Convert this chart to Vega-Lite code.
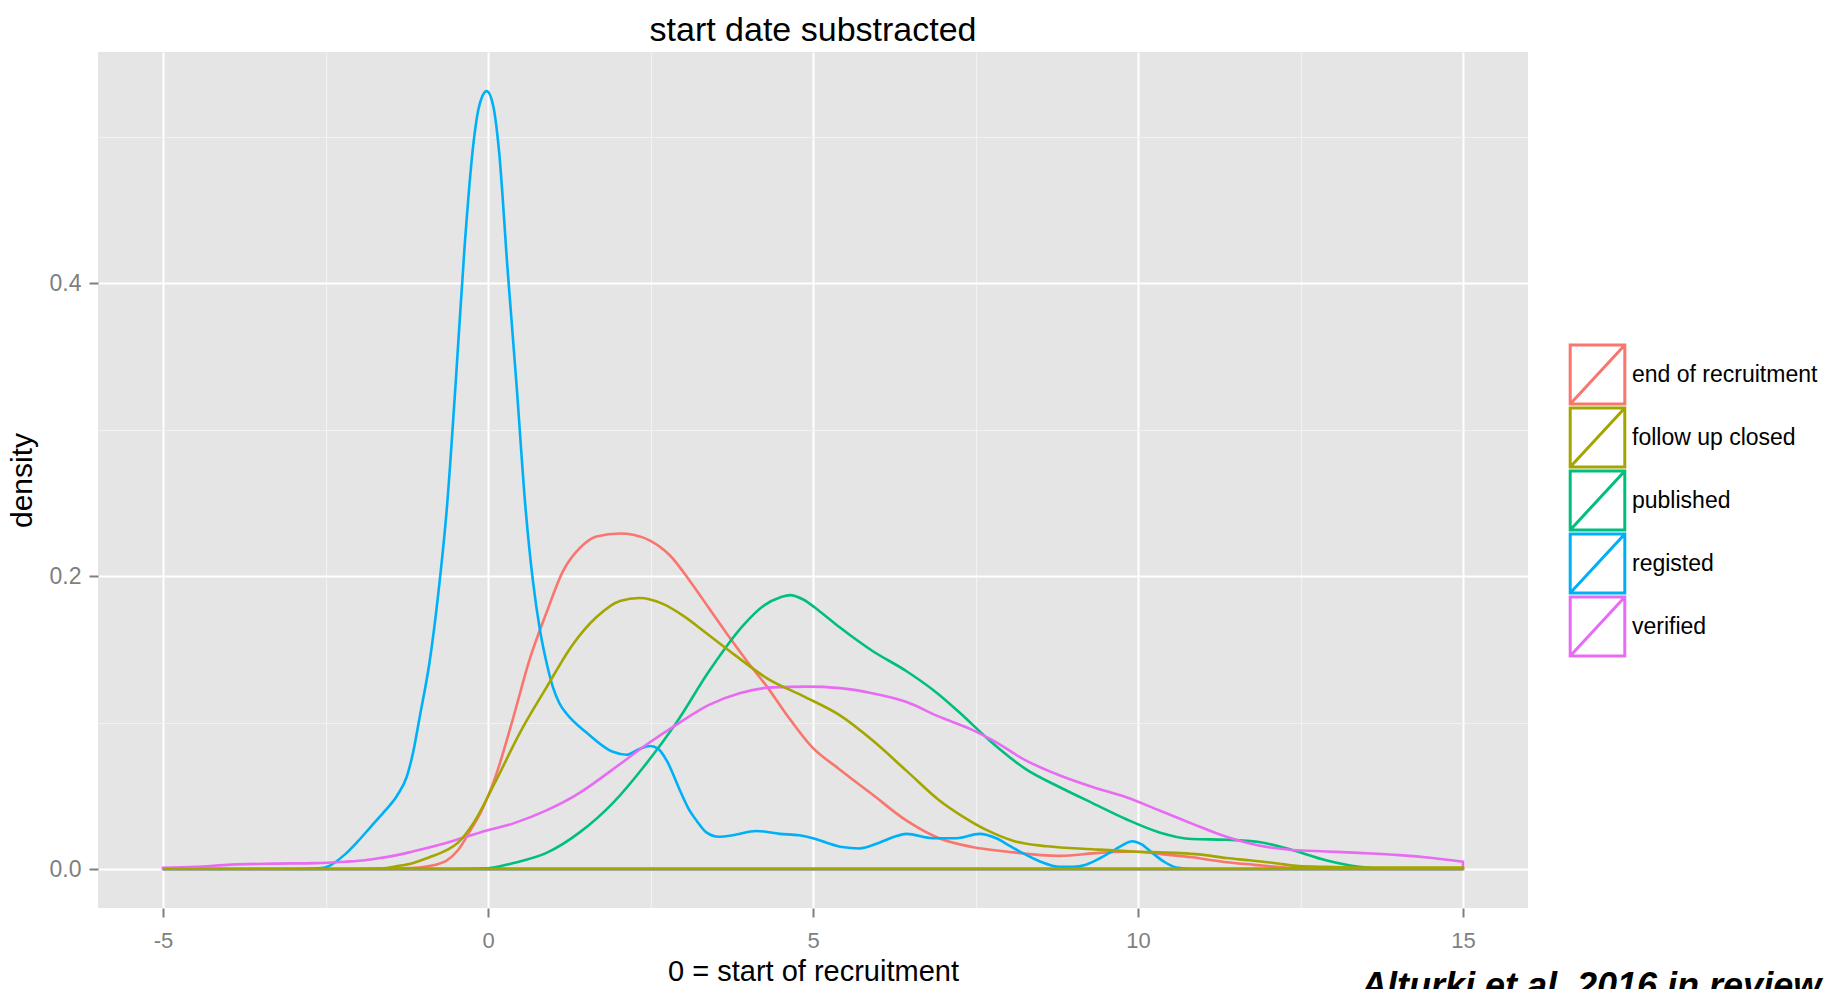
{
  "$schema": "https://vega.github.io/schema/vega-lite/v6.json",
  "autosize": "none",
  "width": 1430,
  "height": 856,
  "padding": {"left": 98, "top": 52, "right": 297, "bottom": 81},
  "background": "white",
  "title": {"text": "start date substracted", "fontSize": 34, "fontWeight": "normal", "color": "black", "anchor": "middle", "offset": 4, "font": "Liberation Sans"},
  "config": {
    "view": {"fill": "#e5e5e5", "stroke": null},
    "font": "Liberation Sans"
  },
  "datasets": {
    "curves": [
      {"event": "end of recruitment", "t": -5, "density": 0},
      {"event": "end of recruitment", "t": -2, "density": 0},
      {"event": "end of recruitment", "t": -1.5, "density": 0.0003},
      {"event": "end of recruitment", "t": -1.13, "density": 0.0008},
      {"event": "end of recruitment", "t": -0.9, "density": 0.002},
      {"event": "end of recruitment", "t": -0.63, "density": 0.006},
      {"event": "end of recruitment", "t": -0.46, "density": 0.013},
      {"event": "end of recruitment", "t": -0.25, "density": 0.028},
      {"event": "end of recruitment", "t": -0.12, "density": 0.038},
      {"event": "end of recruitment", "t": 0.13, "density": 0.065},
      {"event": "end of recruitment", "t": 0.38, "density": 0.102},
      {"event": "end of recruitment", "t": 0.64, "density": 0.143},
      {"event": "end of recruitment", "t": 0.9, "density": 0.175},
      {"event": "end of recruitment", "t": 1.15, "density": 0.203},
      {"event": "end of recruitment", "t": 1.41, "density": 0.219},
      {"event": "end of recruitment", "t": 1.67, "density": 0.227},
      {"event": "end of recruitment", "t": 2.03, "density": 0.229},
      {"event": "end of recruitment", "t": 2.25, "density": 0.228},
      {"event": "end of recruitment", "t": 2.5, "density": 0.224},
      {"event": "end of recruitment", "t": 2.8, "density": 0.214},
      {"event": "end of recruitment", "t": 3.1, "density": 0.197},
      {"event": "end of recruitment", "t": 3.4, "density": 0.178},
      {"event": "end of recruitment", "t": 3.7, "density": 0.159},
      {"event": "end of recruitment", "t": 4.0, "density": 0.141},
      {"event": "end of recruitment", "t": 4.3, "density": 0.124},
      {"event": "end of recruitment", "t": 4.6, "density": 0.105},
      {"event": "end of recruitment", "t": 4.99, "density": 0.083},
      {"event": "end of recruitment", "t": 5.41, "density": 0.068},
      {"event": "end of recruitment", "t": 5.91, "density": 0.051},
      {"event": "end of recruitment", "t": 6.44, "density": 0.033},
      {"event": "end of recruitment", "t": 6.94, "density": 0.021},
      {"event": "end of recruitment", "t": 7.45, "density": 0.015},
      {"event": "end of recruitment", "t": 7.97, "density": 0.012},
      {"event": "end of recruitment", "t": 8.79, "density": 0.009},
      {"event": "end of recruitment", "t": 9.4, "density": 0.011},
      {"event": "end of recruitment", "t": 9.91, "density": 0.012},
      {"event": "end of recruitment", "t": 10.4, "density": 0.01},
      {"event": "end of recruitment", "t": 10.83, "density": 0.008},
      {"event": "end of recruitment", "t": 11.3, "density": 0.005},
      {"event": "end of recruitment", "t": 11.76, "density": 0.003},
      {"event": "end of recruitment", "t": 12.37, "density": 0.0007},
      {"event": "end of recruitment", "t": 13, "density": 0},
      {"event": "end of recruitment", "t": 15, "density": 0},

      {"event": "published", "t": -5, "density": 0},
      {"event": "published", "t": -0.5, "density": 0},
      {"event": "published", "t": 0, "density": 0.0005},
      {"event": "published", "t": 0.38, "density": 0.004},
      {"event": "published", "t": 0.9, "density": 0.011},
      {"event": "published", "t": 1.41, "density": 0.025},
      {"event": "published", "t": 1.92, "density": 0.045},
      {"event": "published", "t": 2.4, "density": 0.07},
      {"event": "published", "t": 2.9, "density": 0.1},
      {"event": "published", "t": 3.4, "density": 0.135},
      {"event": "published", "t": 3.92, "density": 0.166},
      {"event": "published", "t": 4.25, "density": 0.18},
      {"event": "published", "t": 4.5, "density": 0.1855},
      {"event": "published", "t": 4.65, "density": 0.187},
      {"event": "published", "t": 4.85, "density": 0.184},
      {"event": "published", "t": 5.1, "density": 0.176},
      {"event": "published", "t": 5.41, "density": 0.165},
      {"event": "published", "t": 5.91, "density": 0.149},
      {"event": "published", "t": 6.44, "density": 0.135},
      {"event": "published", "t": 6.94, "density": 0.119},
      {"event": "published", "t": 7.25, "density": 0.107},
      {"event": "published", "t": 7.76, "density": 0.086},
      {"event": "published", "t": 8.28, "density": 0.068},
      {"event": "published", "t": 8.79, "density": 0.056},
      {"event": "published", "t": 9.3, "density": 0.045},
      {"event": "published", "t": 9.82, "density": 0.034},
      {"event": "published", "t": 10.33, "density": 0.025},
      {"event": "published", "t": 10.83, "density": 0.0205},
      {"event": "published", "t": 11.36, "density": 0.02},
      {"event": "published", "t": 11.86, "density": 0.0185},
      {"event": "published", "t": 12.37, "density": 0.013},
      {"event": "published", "t": 12.89, "density": 0.006},
      {"event": "published", "t": 13.4, "density": 0.0015},
      {"event": "published", "t": 13.8, "density": 0.0003},
      {"event": "published", "t": 14.5, "density": 0},
      {"event": "published", "t": 15, "density": 0},

      {"event": "registed", "t": -5, "density": 0},
      {"event": "registed", "t": -3, "density": 0},
      {"event": "registed", "t": -2.6, "density": 0.0005},
      {"event": "registed", "t": -2.45, "density": 0.002},
      {"event": "registed", "t": -2.2, "density": 0.01},
      {"event": "registed", "t": -2.0, "density": 0.019},
      {"event": "registed", "t": -1.8, "density": 0.029},
      {"event": "registed", "t": -1.6, "density": 0.039},
      {"event": "registed", "t": -1.4, "density": 0.05},
      {"event": "registed", "t": -1.25, "density": 0.063},
      {"event": "registed", "t": -1.15, "density": 0.08},
      {"event": "registed", "t": -1.05, "density": 0.104},
      {"event": "registed", "t": -0.9, "density": 0.141},
      {"event": "registed", "t": -0.77, "density": 0.186},
      {"event": "registed", "t": -0.63, "density": 0.248},
      {"event": "registed", "t": -0.5, "density": 0.33},
      {"event": "registed", "t": -0.36, "density": 0.425},
      {"event": "registed", "t": -0.23, "density": 0.493},
      {"event": "registed", "t": -0.14, "density": 0.52},
      {"event": "registed", "t": -0.02, "density": 0.531},
      {"event": "registed", "t": 0.08, "density": 0.521},
      {"event": "registed", "t": 0.17, "density": 0.49},
      {"event": "registed", "t": 0.3, "density": 0.41},
      {"event": "registed", "t": 0.44, "density": 0.33},
      {"event": "registed", "t": 0.58, "density": 0.245},
      {"event": "registed", "t": 0.69, "density": 0.197},
      {"event": "registed", "t": 0.8, "density": 0.163},
      {"event": "registed", "t": 0.9, "density": 0.141},
      {"event": "registed", "t": 1.0, "density": 0.124},
      {"event": "registed", "t": 1.1, "density": 0.113},
      {"event": "registed", "t": 1.21, "density": 0.106},
      {"event": "registed", "t": 1.52, "density": 0.093},
      {"event": "registed", "t": 1.92, "density": 0.08},
      {"event": "registed", "t": 2.13, "density": 0.078},
      {"event": "registed", "t": 2.33, "density": 0.082},
      {"event": "registed", "t": 2.5, "density": 0.084},
      {"event": "registed", "t": 2.62, "density": 0.082},
      {"event": "registed", "t": 2.75, "density": 0.074},
      {"event": "registed", "t": 2.95, "density": 0.054},
      {"event": "registed", "t": 3.1, "density": 0.04},
      {"event": "registed", "t": 3.21, "density": 0.033},
      {"event": "registed", "t": 3.36, "density": 0.025},
      {"event": "registed", "t": 3.55, "density": 0.022},
      {"event": "registed", "t": 3.76, "density": 0.023},
      {"event": "registed", "t": 4.13, "density": 0.026},
      {"event": "registed", "t": 4.49, "density": 0.024},
      {"event": "registed", "t": 4.79, "density": 0.023},
      {"event": "registed", "t": 5.0, "density": 0.021},
      {"event": "registed", "t": 5.21, "density": 0.018},
      {"event": "registed", "t": 5.45, "density": 0.015},
      {"event": "registed", "t": 5.71, "density": 0.014},
      {"event": "registed", "t": 6.02, "density": 0.018},
      {"event": "registed", "t": 6.25, "density": 0.022},
      {"event": "registed", "t": 6.44, "density": 0.024},
      {"event": "registed", "t": 6.84, "density": 0.021},
      {"event": "registed", "t": 7.21, "density": 0.021},
      {"event": "registed", "t": 7.56, "density": 0.024},
      {"event": "registed", "t": 7.82, "density": 0.021},
      {"event": "registed", "t": 8.02, "density": 0.016},
      {"event": "registed", "t": 8.22, "density": 0.011},
      {"event": "registed", "t": 8.5, "density": 0.005},
      {"event": "registed", "t": 8.79, "density": 0.0015},
      {"event": "registed", "t": 9.0, "density": 0.0015},
      {"event": "registed", "t": 9.2, "density": 0.003},
      {"event": "registed", "t": 9.4, "density": 0.007},
      {"event": "registed", "t": 9.56, "density": 0.011},
      {"event": "registed", "t": 9.75, "density": 0.016},
      {"event": "registed", "t": 9.91, "density": 0.019},
      {"event": "registed", "t": 10.05, "density": 0.017},
      {"event": "registed", "t": 10.22, "density": 0.011},
      {"event": "registed", "t": 10.4, "density": 0.005},
      {"event": "registed", "t": 10.59, "density": 0.001},
      {"event": "registed", "t": 10.83, "density": 0},
      {"event": "registed", "t": 13, "density": 0},
      {"event": "registed", "t": 15, "density": 0},

      {"event": "verified", "t": -5, "density": 0.0008},
      {"event": "verified", "t": -4.5, "density": 0.0015},
      {"event": "verified", "t": -3.95, "density": 0.003},
      {"event": "verified", "t": -3.3, "density": 0.0037},
      {"event": "verified", "t": -2.66, "density": 0.004},
      {"event": "verified", "t": -2.2, "density": 0.005},
      {"event": "verified", "t": -1.89, "density": 0.006},
      {"event": "verified", "t": -1.66, "density": 0.0075},
      {"event": "verified", "t": -1.4, "density": 0.0095},
      {"event": "verified", "t": -1.16, "density": 0.012},
      {"event": "verified", "t": -0.63, "density": 0.018},
      {"event": "verified", "t": -0.12, "density": 0.025},
      {"event": "verified", "t": 0.38, "density": 0.031},
      {"event": "verified", "t": 0.9, "density": 0.04},
      {"event": "verified", "t": 1.41, "density": 0.052},
      {"event": "verified", "t": 1.92, "density": 0.068},
      {"event": "verified", "t": 2.44, "density": 0.085},
      {"event": "verified", "t": 2.95, "density": 0.1},
      {"event": "verified", "t": 3.4, "density": 0.112},
      {"event": "verified", "t": 3.87, "density": 0.12},
      {"event": "verified", "t": 4.38, "density": 0.124},
      {"event": "verified", "t": 4.9, "density": 0.1245},
      {"event": "verified", "t": 5.41, "density": 0.1235},
      {"event": "verified", "t": 5.91, "density": 0.12},
      {"event": "verified", "t": 6.44, "density": 0.114},
      {"event": "verified", "t": 6.94, "density": 0.104},
      {"event": "verified", "t": 7.45, "density": 0.095},
      {"event": "verified", "t": 7.76, "density": 0.088},
      {"event": "verified", "t": 8.28, "density": 0.074},
      {"event": "verified", "t": 8.79, "density": 0.064},
      {"event": "verified", "t": 9.3, "density": 0.056},
      {"event": "verified", "t": 9.82, "density": 0.049},
      {"event": "verified", "t": 10.33, "density": 0.04},
      {"event": "verified", "t": 10.83, "density": 0.031},
      {"event": "verified", "t": 11.36, "density": 0.022},
      {"event": "verified", "t": 11.86, "density": 0.016},
      {"event": "verified", "t": 12.37, "density": 0.013},
      {"event": "verified", "t": 12.89, "density": 0.012},
      {"event": "verified", "t": 13.4, "density": 0.011},
      {"event": "verified", "t": 14.02, "density": 0.0095},
      {"event": "verified", "t": 14.53, "density": 0.0075},
      {"event": "verified", "t": 15, "density": 0.005},

      {"event": "follow up closed", "t": -5, "density": 0},
      {"event": "follow up closed", "t": -2, "density": 0},
      {"event": "follow up closed", "t": -1.6, "density": 0.0005},
      {"event": "follow up closed", "t": -1.39, "density": 0.002},
      {"event": "follow up closed", "t": -1.16, "density": 0.004},
      {"event": "follow up closed", "t": -0.9, "density": 0.008},
      {"event": "follow up closed", "t": -0.63, "density": 0.013},
      {"event": "follow up closed", "t": -0.46, "density": 0.018},
      {"event": "follow up closed", "t": -0.23, "density": 0.031},
      {"event": "follow up closed", "t": 0.13, "density": 0.061},
      {"event": "follow up closed", "t": 0.49, "density": 0.093},
      {"event": "follow up closed", "t": 0.9, "density": 0.124},
      {"event": "follow up closed", "t": 1.3, "density": 0.153},
      {"event": "follow up closed", "t": 1.67, "density": 0.172},
      {"event": "follow up closed", "t": 2.03, "density": 0.183},
      {"event": "follow up closed", "t": 2.33, "density": 0.185},
      {"event": "follow up closed", "t": 2.69, "density": 0.181},
      {"event": "follow up closed", "t": 3.0, "density": 0.173},
      {"event": "follow up closed", "t": 3.36, "density": 0.161},
      {"event": "follow up closed", "t": 3.8, "density": 0.146},
      {"event": "follow up closed", "t": 4.3, "density": 0.13},
      {"event": "follow up closed", "t": 4.85, "density": 0.118},
      {"event": "follow up closed", "t": 5.41, "density": 0.105},
      {"event": "follow up closed", "t": 5.91, "density": 0.088},
      {"event": "follow up closed", "t": 6.44, "density": 0.067},
      {"event": "follow up closed", "t": 6.94, "density": 0.047},
      {"event": "follow up closed", "t": 7.3, "density": 0.036},
      {"event": "follow up closed", "t": 7.7, "density": 0.026},
      {"event": "follow up closed", "t": 8.1, "density": 0.019},
      {"event": "follow up closed", "t": 8.6, "density": 0.0155},
      {"event": "follow up closed", "t": 9.3, "density": 0.0135},
      {"event": "follow up closed", "t": 9.9, "density": 0.012},
      {"event": "follow up closed", "t": 10.59, "density": 0.011},
      {"event": "follow up closed", "t": 10.94, "density": 0.01},
      {"event": "follow up closed", "t": 11.36, "density": 0.0075},
      {"event": "follow up closed", "t": 11.71, "density": 0.006},
      {"event": "follow up closed", "t": 12.12, "density": 0.004},
      {"event": "follow up closed", "t": 12.48, "density": 0.002},
      {"event": "follow up closed", "t": 12.89, "density": 0.0015},
      {"event": "follow up closed", "t": 13.5, "density": 0.001},
      {"event": "follow up closed", "t": 15, "density": 0.001}
    ],
    "note": [{"label": "Alturki et al. 2016 in review"}]
  },
  "resolve": {"axis": {"x": "independent", "y": "independent"}},
  "layer": [
    {
      "data": {"name": "curves"},
      "mark": {"type": "area", "interpolate": "monotone", "fill": "transparent", "fillOpacity": 0, "strokeWidth": 2.6},
      "encoding": {
        "x": {
          "field": "t", "type": "quantitative",
          "scale": {"domain": [-6, 16], "nice": false, "zero": false},
          "axis": {
            "values": [-5, 0, 5, 10, 15], "orient": "bottom", "grid": true, "gridColor": "white", "gridWidth": 2,
            "domain": false, "tickColor": "#7f7f7f", "tickSize": 9, "tickWidth": 2,
            "labelColor": "#7f7f7f", "labelFontSize": 22, "labelPadding": 13, "labelFlush": false, "labelOverlap": false,
            "labelExpr": "datum.value < 0 ? '-' + abs(datum.value) : '' + datum.value",
            "title": "0 = start of recruitment", "titleFontSize": 29, "titleFontWeight": "normal", "titleColor": "black", "titlePadding": 6
          }
        },
        "y": {
          "field": "density", "type": "quantitative", "stack": null,
          "scale": {"domain": [-0.0266, 0.5577], "nice": false, "zero": false},
          "axis": {
            "values": [0, 0.2, 0.4], "format": ".1f", "orient": "left", "grid": true, "gridColor": "white", "gridWidth": 2,
            "domain": false, "tickColor": "#7f7f7f", "tickSize": 9, "tickWidth": 2,
            "labelColor": "#7f7f7f", "labelFontSize": 23, "labelPadding": 8, "labelFlush": false, "labelOverlap": false,
            "title": "density", "titleFontSize": 30, "titleFontWeight": "normal", "titleColor": "black", "titlePadding": 12
          }
        },
        "y2": {"datum": 0},
        "stroke": {
          "field": "event", "type": "nominal",
          "scale": {
            "domain": ["end of recruitment", "follow up closed", "published", "registed", "verified"],
            "range": ["#F8766D", "#A3A500", "#00BF7D", "#00B0F6", "#E76BF3"]
          },
          "legend": {
            "title": null, "orient": "none", "legendX": 1472, "legendY": 295, "padding": 0,
            "symbolType": "M-1.05,-1.1346H1.05V1.1346H-1.05Z M-1.05,1.1346L1.05,-1.1346",
            "symbolSize": 2704, "symbolStrokeWidth": 3, "symbolFillColor": "#f2f2f2",
            "rowPadding": -14, "labelFontSize": 23, "labelColor": "black", "labelOffset": 7, "labelFont": "Liberation Sans", "labelLimit": 0,
            "encode": {"symbols": {"update": {"fill": {"value": "#f2f2f2"}, "fillOpacity": {"value": 1}}}}
          }
        }
      }
    },
    {
      "data": {"name": "note"},
      "mark": {"type": "text", "align": "left", "baseline": "alphabetic", "fontSize": 36, "fontWeight": "bold", "fontStyle": "italic", "color": "black", "font": "Liberation Sans"},
      "encoding": {
        "text": {"field": "label"},
        "x": {
          "datum": 13.43, "type": "quantitative",
          "axis": {"values": [-2.5, 2.5, 7.5, 12.5], "orient": "top", "grid": true, "gridColor": "#f2f2f2", "gridWidth": 1.2, "domain": false, "ticks": false, "labels": false, "title": null}
        },
        "y": {
          "datum": -0.088, "type": "quantitative",
          "axis": {"values": [0.1, 0.3, 0.5], "orient": "right", "grid": true, "gridColor": "#f2f2f2", "gridWidth": 1.2, "domain": false, "ticks": false, "labels": false, "title": null}
        }
      }
    }
  ]
}
